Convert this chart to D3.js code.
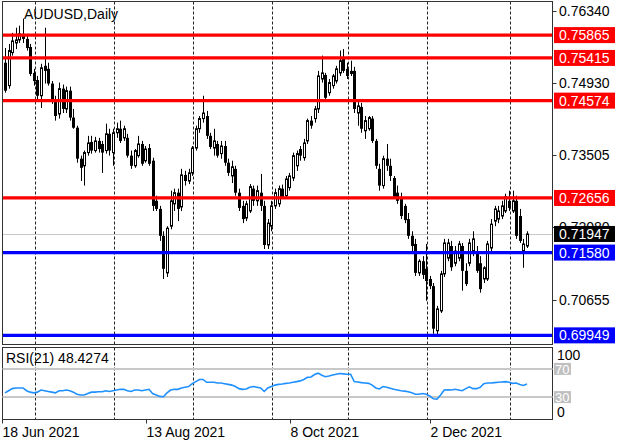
<!DOCTYPE html>
<html><head><meta charset="utf-8">
<script src="https://cdn.jsdelivr.net/npm/d3@7"></script>
<style>html,body{margin:0;padding:0;background:#fff;overflow:hidden}svg{display:block;font-family:"Liberation Sans",Arial,sans-serif}</style>
</head><body><svg id="c" width="625" height="446"></svg>
<script>
const symbolLabel = "AUDUSD,Daily";
const firstDate = "2021-06-18";
const open = [.7532,.7487,.7552,.7571,.7577,.7589,.7579,.7563,.7512,.7498,.7467,.7526,.7520,.7491,.7457,.7431,.7481,.7441,.7477,.7424,
.7404,.7343,.7329,.7355,.7376,.7359,.7378,.7372,.7359,.7392,.7355,.7394,.7402,.7384,.7384,.7349,.7329,.7349,.7372,.7339,
.7364,.7339,.7260,.7244,.7191,.7118,.7210,.7254,.7276,.7248,.7311,.7299,.7315,.7364,.7402,.7422,.7427,.7388,.7364,.7372,
.7353,.7368,.7335,.7309,.7323,.7276,.7250,.7226,.7240,.7284,.7260,.7276,.7250,.7173,.7210,.7250,.7254,.7284,.7270,.7286,
.7305,.7329,.7362,.7345,.7378,.7418,.7422,.7441,.7500,.7508,.7473,.7487,.7496,.7512,.7540,.7520,.7516,.7516,.7433,.7445,
.7398,.7402,.7422,.7378,.7323,.7290,.7343,.7329,.7305,.7276,.7264,.7250,.7224,.7191,.7175,.7118,.7141,.7126,.7106,.7092,
.7004,.7043,.7116,.7147,.7171,.7137,.7147,.7171,.7122,.7137,.7161,.7161,.7137,.7106,.7106,.7167,.7220,.7224,.7230,.7240,
.7260,.7240,.7260,.7230,.7161,.7171];
const high = [.7561,.7569,.7591,.7601,.7605,.7619,.7589,.7569,.7520,.7506,.7530,.7601,.7532,.7496,.7467,.7493,.7489,.7485,.7485,.7441,
.7408,.7349,.7359,.7388,.7388,.7386,.7384,.7378,.7412,.7402,.7402,.7414,.7418,.7408,.7392,.7359,.7362,.7388,.7378,.7368,
.7372,.7345,.7270,.7250,.7200,.7210,.7280,.7284,.7284,.7323,.7319,.7323,.7368,.7408,.7427,.7467,.7437,.7394,.7402,.7378,
.7378,.7378,.7343,.7339,.7329,.7284,.7260,.7260,.7293,.7290,.7290,.7313,.7260,.7224,.7260,.7284,.7290,.7292,.7309,.7315,
.7355,.7359,.7368,.7382,.7422,.7427,.7447,.7516,.7546,.7512,.7500,.7510,.7526,.7556,.7559,.7532,.7536,.7524,.7457,.7453,
.7427,.7427,.7427,.7382,.7333,.7349,.7372,.7343,.7309,.7290,.7276,.7254,.7236,.7200,.7185,.7145,.7151,.7175,.7112,.7098,
.7053,.7122,.7185,.7185,.7181,.7171,.7181,.7177,.7137,.7185,.7200,.7171,.7151,.7131,.7181,.7224,.7250,.7250,.7260,.7274,
.7280,.7280,.7270,.7244,.7185,.7200];
const low = [.7473,.7481,.7546,.7559,.7571,.7571,.7556,.7506,.7487,.7457,.7443,.7491,.7487,.7451,.7418,.7422,.7433,.7433,.7418,.7402,
.7335,.7299,.7290,.7349,.7353,.7355,.7355,.7315,.7353,.7349,.7329,.7384,.7374,.7378,.7345,.7323,.7325,.7345,.7329,.7335,
.7329,.7240,.7240,.7181,.7106,.7110,.7204,.7240,.7220,.7240,.7290,.7293,.7309,.7359,.7394,.7414,.7382,.7362,.7349,.7345,
.7343,.7329,.7309,.7295,.7270,.7240,.7216,.7220,.7236,.7250,.7250,.7240,.7165,.7165,.7200,.7244,.7248,.7264,.7264,.7280,
.7299,.7319,.7339,.7339,.7372,.7402,.7414,.7433,.7493,.7457,.7467,.7481,.7491,.7506,.7512,.7500,.7506,.7433,.7408,.7394,
.7382,.7398,.7374,.7323,.7280,.7284,.7319,.7299,.7264,.7254,.7224,.7216,.7185,.7161,.7112,.7112,.7106,.7063,.7086,.6998,
.6994,.7039,.7110,.7141,.7122,.7131,.7141,.7083,.7092,.7131,.7151,.7118,.7079,.7098,.7102,.7161,.7210,.7216,.7224,.7236,
.7240,.7236,.7185,.7177,.7128,.7167];
const close = [.7477,.7556,.7575,.7577,.7589,.7579,.7561,.7510,.7496,.7467,.7522,.7516,.7491,.7457,.7427,.7481,.7441,.7477,.7424,.7404,
.7343,.7325,.7355,.7374,.7359,.7378,.7362,.7355,.7392,.7359,.7394,.7402,.7378,.7402,.7349,.7329,.7359,.7372,.7333,.7362,
.7333,.7250,.7244,.7191,.7126,.7206,.7260,.7276,.7244,.7311,.7299,.7315,.7364,.7402,.7422,.7433,.7388,.7366,.7378,.7349,
.7368,.7335,.7315,.7327,.7276,.7246,.7224,.7254,.7288,.7260,.7280,.7250,.7173,.7216,.7250,.7276,.7284,.7268,.7303,.7309,
.7349,.7353,.7349,.7374,.7418,.7408,.7441,.7506,.7512,.7463,.7493,.7506,.7520,.7536,.7516,.7506,.7510,.7441,.7447,.7402,
.7418,.7424,.7378,.7329,.7290,.7343,.7329,.7309,.7268,.7260,.7230,.7222,.7191,.7171,.7118,.7141,.7114,.7102,.7092,.7008,
.7047,.7116,.7177,.7177,.7129,.7161,.7175,.7122,.7096,.7177,.7185,.7122,.7086,.7128,.7175,.7214,.7244,.7240,.7250,.7268,
.7246,.7260,.7191,.7181,.7175,.71947];
const rsi = [36,39,42,43,43,43,39,37,36,37,40,39,38,37,36,39,39,40,39,37,
34,33,33,35,37,37,37.5,37.5,39,38,39,40,41,41,39,38,40,40,39,40,
41,35,33,31,30.5,36,40,41,41,43,44,45,49,52,55,55,51,51,51,50,
50,49,48,47,45,42,41,41.5,44,45,44,43,38,43,45,47,48,48.5,49.5,50,
51,52,53,55,58,58.5,62,64,61,59,60,61.5,62.5,63.5,63,62.5,62.5,52,51.5,50.5,
50,49.5,47,43,41.5,45,44,42.5,41,40,39,38.5,37.5,36,34,34,35,34,31.5,27.5,
27,33,40,40.5,40,41,40,39,42,44.5,42,42,44,49,50,50,50.5,51,51.5,52,
51,49.5,50,48,46.5,48.4274];
const rsiLabel = "RSI(21) 48.4274";
const priceTicks = [0.76340, 0.74930, 0.73505, 0.72080, 0.70655];
const resistance = [0.75865, 0.75415, 0.74574, 0.72656];
const support = [0.71580, 0.69949];
const lastPrice = 0.71947;
const dateLabels = ["18 Jun 2021", "13 Aug 2021", "8 Oct 2021", "2 Dec 2021"];
const rsiLevels = [70, 30];
const rsiBounds = [100, 0];

const svg = d3.select("#c");
const N = close.length;
const dates = [];
for (let d = d3.utcParse("%Y-%m-%d")(firstDate); dates.length < N; d = d3.utcDay.offset(d, 1)) {
  const w = d.getUTCDay();
  if (w !== 0 && w !== 6) dates.push(d);
}
const L = 2.5, R = 552.5, T = 1.5, B = 344.5, RT = 347.5, RB = 419.5;
const x = d3.scaleLinear().domain([0, N - 1]).range([5, 5 + 3.6 * (N - 1)]);
const y = d3.scaleLinear().domain([0.69769, 0.76527]).range([B, T]);
const yr = d3.scaleLinear().domain([0, 100]).range([418.2, 347.8]);
const fmt = d3.format(".5f");
const fmtDate = d3.utcFormat("%-d %b %Y");

// month separators
const monthEnds = d3.range(N - 1).filter(i => dates[i].getUTCMonth() !== dates[i + 1].getUTCMonth());
const grid = svg.append("g").attr("stroke", "#222").attr("stroke-width", 1).attr("stroke-dasharray", "3,2");
monthEnds.forEach(i => {
  const gx = Math.round(x(i) + 1) + 0.5;
  grid.append("line").attr("x1", gx).attr("x2", gx).attr("y1", T).attr("y2", B);
  grid.append("line").attr("x1", gx).attr("x2", gx).attr("y1", RT).attr("y2", RB);
});

// last price line
svg.append("line").attr("x1", L).attr("x2", R).attr("y1", Math.round(y(lastPrice)) + 0.5).attr("y2", Math.round(y(lastPrice)) + 0.5)
  .attr("stroke", "#c8c8c8").attr("stroke-width", 1);

// candles
const cg = svg.append("g");
d3.range(N).forEach(i => {
  const cx = Math.round(x(i)) + 0.5;
  cg.append("line").attr("x1", cx).attr("x2", cx).attr("y1", y(high[i])).attr("y2", y(low[i])).attr("stroke", "#000").attr("stroke-width", 1);
  const top = y(Math.max(open[i], close[i])), bot = y(Math.min(open[i], close[i]));
  if (close[i] >= open[i]) {
    cg.append("rect").attr("x", cx - 1).attr("y", top).attr("width", 2).attr("height", Math.max(1, bot - top))
      .attr("fill", "#fff").attr("stroke", "#000").attr("stroke-width", 1);
  } else {
    cg.append("rect").attr("x", cx - 1.5).attr("y", top).attr("width", 3).attr("height", Math.max(1, bot - top)).attr("fill", "#000");
  }
});

// level lines
resistance.forEach(v => svg.append("line").attr("x1", L).attr("x2", R).attr("y1", y(v)).attr("y2", y(v)).attr("stroke", "#ff0000").attr("stroke-width", 3.2));
support.forEach(v => svg.append("line").attr("x1", L).attr("x2", R).attr("y1", y(v)).attr("y2", y(v)).attr("stroke", "#0000ff").attr("stroke-width", 3.2));

// frames
svg.append("rect").attr("x", L).attr("y", T).attr("width", R - L).attr("height", B - T).attr("fill", "none").attr("stroke", "#333");
svg.append("rect").attr("x", L).attr("y", RT).attr("width", R - L).attr("height", RB - RT).attr("fill", "none").attr("stroke", "#333");

// price axis
const pa = svg.append("g").attr("font-size", 14);
priceTicks.forEach(v => {
  pa.append("line").attr("x1", R).attr("x2", R + 4).attr("y1", Math.round(y(v)) + 0.5).attr("y2", Math.round(y(v)) + 0.5).attr("stroke", "#333");
  pa.append("text").attr("x", 559).attr("y", y(v)).attr("dy", "0.36em").attr("fill", "#000").text(fmt(v));
});
function tag(v, col) {
  pa.append("rect").attr("x", 554).attr("y", y(v) - 8).attr("width", 61).attr("height", 16).attr("fill", col);
  pa.append("text").attr("x", 559).attr("y", y(v)).attr("dy", "0.36em").attr("fill", "#fff").text(fmt(v));
}
resistance.forEach(v => tag(v, "#ff0000"));
support.forEach(v => tag(v, "#0000ff"));
tag(lastPrice, "#000");

// title
svg.append("text").attr("x", 24).attr("y", 18.5).attr("font-size", 14).attr("fill", "#000").text(symbolLabel);

// RSI
rsiLevels.forEach(v => svg.append("line").attr("x1", L).attr("x2", R).attr("y1", yr(v)).attr("y2", yr(v)).attr("stroke", "#c8c8c8").attr("stroke-width", 2));
svg.append("path").datum(rsi).attr("fill", "none").attr("stroke", "#1e90ff").attr("stroke-width", 1.6)
  .attr("d", d3.line().x((d, i) => x(i)).y(d => yr(d)));
svg.append("text").attr("x", 6).attr("y", 363).attr("font-size", 14).attr("fill", "#000").text(rsiLabel);
const ra = svg.append("g").attr("font-size", 14);
rsiBounds.forEach(v => ra.append("text").attr("x", 557).attr("y", v === 100 ? 360 : 417).attr("fill", "#000").text(v));
rsiLevels.forEach(v => {
  ra.append("rect").attr("x", 554).attr("y", yr(v) - 6).attr("width", 17).attr("height", 12).attr("fill", "#c0c0c0");
  ra.append("text").attr("x", 555).attr("y", yr(v)).attr("dy", "0.36em").attr("font-size", 13).attr("fill", "#fff").text(v);
});

// date axis
const da = svg.append("g").attr("font-size", 14);
dateLabels.forEach(lbl => {
  const i = dates.findIndex(d => fmtDate(d) === lbl);
  if (i < 0) return;
  const tx = Math.round(x(i) - 3) + 0.5;
  da.append("line").attr("x1", tx).attr("x2", tx).attr("y1", RB).attr("y2", RB + 4).attr("stroke", "#333");
  da.append("text").attr("x", tx).attr("y", 437).attr("fill", "#000").text(lbl);
});
</script></body></html>
